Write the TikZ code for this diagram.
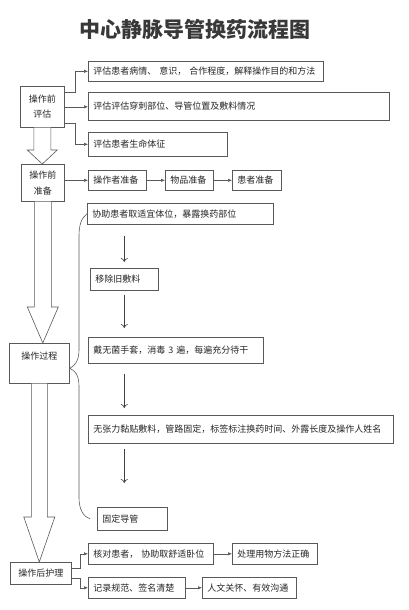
\documentclass[tikz,border=0pt]{standalone}
\usepackage{fontspec}
\setmainfont{Noto Sans CJK SC}
\usepackage{tikz}
\usetikzlibrary{calc, arrows.meta}
\newcommand{\hollowarrow}[5]{%
  \coordinate (tip) at (#1.south |- #2.north);
  \draw[hollow] ($(#1.south)+(-#3,0)$) -- ($(tip)+(-#3,-#5)$) -- ($(tip)+(-#4,-#5)$) -- (tip)
    -- ($(tip)+(#4,-#5)$) -- ($(tip)+(#3,-#5)$) -- ($(#1.south)+(#3,0)$);}

\begin{document}
\begin{tikzpicture}[x=1pt, y=-1pt,
        box/.style={draw=black!65, line width=0.6pt, fill=white, anchor=north west, inner xsep=5pt, inner ysep=0pt, align=left, font=\fontsize{9}{11}\selectfont, text=black!85},
        stage/.style={box, align=center, inner xsep=0pt},
        link/.style={draw=black!65, line width=0.6pt, -{Latex[length=4pt, width=3.5pt]}},
        down/.style={draw=black!75, line width=0.6pt, -{To[length=4pt, width=7pt]}},
        hollow/.style={draw=black!65, line width=0.6pt, fill=white, line join=miter},
        brace/.style={draw=black!65, line width=0.6pt}]
                \useasboundingbox (0,0) rectangle (408,610);
                \node[font=\fontsize{21}{24}\selectfont\bfseries, text=black!78] (title) at (195,29) {中心静脉导管换药流程图};
                \node[stage, minimum width=44pt, minimum height=41pt, font=\fontsize{9}{15}\selectfont] (A) at (20,86) {操作前\\评估};
                \node[box, text width=225pt, minimum height=20pt] (a1) at (88,61) {评估患者病情、 意识， 合作程度，解释操作目的和方法};
                \node[box, text width=291pt, minimum height=28pt] (a2) at (88,92) {评估评估穿刺部位、导管位置及敷料情况};
                \node[box, text width=129pt, minimum height=24pt] (a3) at (88,132) {评估患者生命体征};
                \draw[link] ([yshift=14.5pt]A.east) -- ++(11,0) |- (a1);
                \draw[link] (A) -- (A -| a2.west);
                \draw[link] ([yshift=-16.5pt]A.east) -- ++(11,0) |- (a3);
                \node[stage, minimum width=43pt, minimum height=37pt, font=\fontsize{9}{16}\selectfont] (B) at (21,164) {操作前\\准备};
                \node[box, text width=48pt, minimum height=20pt] (b1) at (88,170) {操作者准备};
                \node[box, text width=38pt, minimum height=20pt] (b2) at (165,170) {物品准备};
                \node[box, text width=39pt, minimum height=20pt] (b3) at (232,170) {患者准备};
                \draw[link] (B.east |- b1) -- (b1);
                \draw[link] (b1) -- (b2);
                \draw[link] (b2) -- (b3);
                \hollowarrow{A}{B}{8.5}{15}{14}
                \node[stage, minimum width=60pt, text height=12pt, text depth=19pt, inner ysep=4.5pt] (C) at (9,343) {操作过程};
                \hollowarrow{B}{C}{8.5}{15.5}{36}
                \node[box, text width=176pt, minimum height=21pt] (c1) at (87,203) {协助患者取适宜体位，暴露换药部位};
                \node[box, text width=58pt, minimum height=22pt] (c2) at (90,268) {移除旧敷料};
                \node[box, text width=165pt, minimum height=26pt] (c3) at (88,337) {戴无菌手套，消毒 3 遍，每遍充分待干};
                \node[box, text width=295pt, minimum height=28pt] (c4) at (88,415) {无张力黏贴敷料，管路固定，标签标注换药时间、外露长度及操作人姓名};
                \node[box, text width=60pt, minimum height=23pt] (c5) at (97,507) {固定导管};
                \draw[down, shorten <=11pt, shorten >=6pt] (c1.south -| c2.north) -- (c2.north);
                \draw[down, shorten <=4pt, shorten >=9pt] (c2.south) -- (c3.north -| c2.south);
                \draw[down, shorten <=10pt, shorten >=7pt] (c3.south -| c2.south) -- (c4.north -| c2.south);
                \draw[down, shorten <=5pt, shorten >=24pt] (c4.south -| c2.south) -- (c5.north -| c2.south);
                \draw[brace] (c1.west) .. controls (81,218) and (79,226) .. (79,236) -- (79,350)
                    .. controls (79,362) and (74,366) .. ([yshift=-5pt]C.east)
                    .. controls (74,370) and (79,374) .. (79,386) -- (79,498)
                    .. controls (79,510) and (84,517) .. ([xshift=-7pt]c5.west);
                \node[stage, minimum width=61pt, minimum height=22pt] (D) at (10,562) {操作后护理};
                \hollowarrow{C}{D}{8}{15.5}{45}
                \node[box, text width=115pt, minimum height=21pt] (d1) at (88,543) {核对患者， 协助取舒适卧位};
                \node[box, text width=75pt, minimum height=21pt] (d2) at (232,543) {处理用物方法正确};
                \node[box, text width=87pt, minimum height=21pt] (d3) at (88,577) {记录规范、签名清楚};
                \node[box, text width=84pt, minimum height=21pt] (d4) at (202,577) {人文关怀、有效沟通};
                \draw[link] ([yshift=5pt]D.east) -- ++(9,0) |- (d1);
                \draw[link] ([yshift=-5pt]D.east) -- ++(9,0) |- (d3);
                \draw[link] (d1) -- (d2);
                \draw[link] (d3) -- (d4);
            \end{tikzpicture}
\end{document}
